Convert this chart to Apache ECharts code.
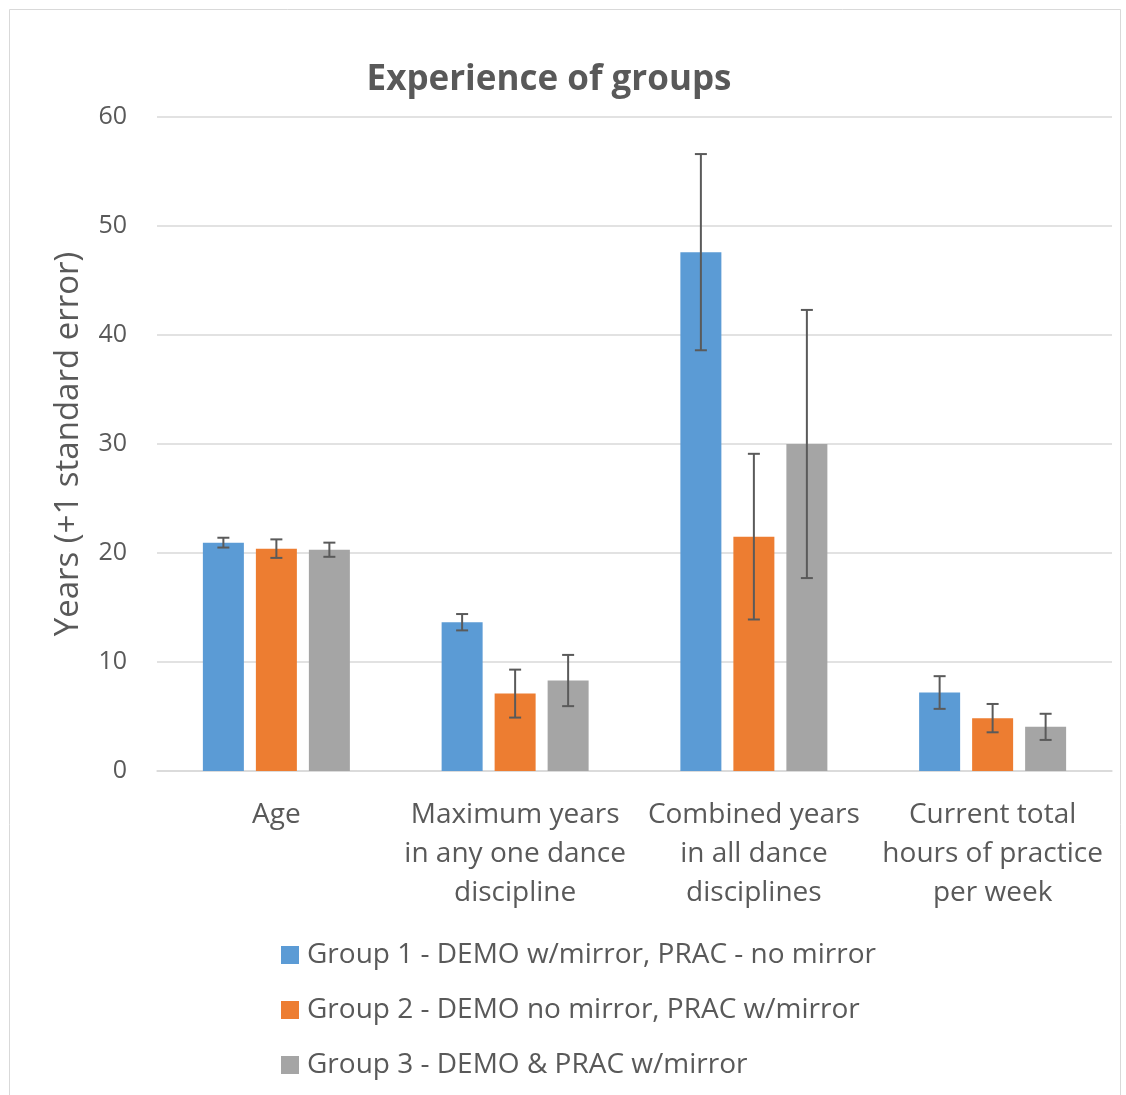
<!DOCTYPE html>
<html>
<head>
<meta charset="utf-8">
<script src="https://cdn.jsdelivr.net/npm/echarts@6/dist/echarts.min.js"></script>
<style>
html,body{margin:0;padding:0;background:#fff;}
#chart{width:1126px;height:1095px;}
</style>
</head>
<body>
<div id="chart"></div>
<script>
const categories = ['Age', 'Maximum years\nin any one dance\ndiscipline', 'Combined years\nin all dance\ndisciplines', 'Current total\nhours of practice\nper week'];
const seriesNames = ['Group 1 - DEMO w/mirror, PRAC - no mirror', 'Group 2 - DEMO no mirror, PRAC w/mirror', 'Group 3 - DEMO & PRAC w/mirror'];
const group1 = [20.95, 13.65, 47.6, 7.2];
const group1Err = [0.45, 0.75, 9.0, 1.5];
const group2 = [20.4, 7.1, 21.5, 4.85];
const group2Err = [0.85, 2.2, 7.6, 1.3];
const group3 = [20.3, 8.3, 30.0, 4.05];
const group3Err = [0.65, 2.35, 12.3, 1.2];
const yTicks = [0, 10, 20, 30, 40, 50, 60];

const colors = ['#5B9BD5', '#ED7D31', '#A5A5A5'];
const values = [group1, group2, group3];
const errs = [group1Err, group2Err, group3Err];
const BAR_W = 41, BAR_GAP = 12;
const font = '"Open Sans", "Noto Sans", sans-serif';

const chart = echarts.init(document.getElementById('chart'));

const barSeries = values.map((v, i) => ({
  name: seriesNames[i],
  type: 'bar',
  data: v,
  barWidth: BAR_W,
  barGap: (BAR_GAP / BAR_W * 100) + '%',
  itemStyle: { color: colors[i] },
  z: 2
}));

const errSeries = values.map((v, i) => ({
  type: 'custom',
  name: 'err' + i,
  data: v.map((val, k) => [k, val - errs[i][k], val + errs[i][k]]),
  encode: { x: 0, y: [1, 2] },
  z: 5,
  silent: true,
  renderItem: function (params, api) {
    const off = (i - 1) * (BAR_W + BAR_GAP);
    const lo = api.coord([api.value(0), api.value(1)]);
    const hi = api.coord([api.value(0), api.value(2)]);
    const x = lo[0] + off;
    const cap = 6;
    const style = { stroke: '#5A5A5A', lineWidth: 2 };
    return {
      type: 'group',
      children: [
        { type: 'line', shape: { x1: x, y1: hi[1], x2: x, y2: lo[1] }, style: style },
        { type: 'line', shape: { x1: x - cap, y1: hi[1], x2: x + cap, y2: hi[1] }, style: style },
        { type: 'line', shape: { x1: x - cap, y1: lo[1], x2: x + cap, y2: lo[1] }, style: style }
      ]
    };
  }
}));

chart.setOption({
  animation: false,
  backgroundColor: '#fff',
  title: {
    text: 'Experience of groups',
    left: 544, textAlign: 'center',
    top: 58,
    textStyle: { fontFamily: font, fontSize: 35, fontWeight: 'bold', color: '#595959' }
  },
  graphic: [{
    type: 'rect', shape: { x: 9.5, y: 9.5, width: 1111, height: 1100 },
    style: { fill: 'none', stroke: '#D9D9D9', lineWidth: 1 }, silent: true
  }],
  legend: {
    data: seriesNames,
    orient: 'vertical',
    left: 281, top: 940, height: 150,
    padding: 0,
    itemWidth: 18, itemHeight: 18, itemGap: 25,
    icon: 'rect',
    textStyle: { fontFamily: font, fontSize: 28, lineHeight: 30, color: '#595959', padding: [0, 0, 0, 3] }
  },
  grid: { left: 157, right: 14, top: 117, bottom: 324, containLabel: false },
  xAxis: {
    type: 'category',
    data: categories,
    axisLine: { lineStyle: { color: '#D9D9D9', width: 1.5 } },
    axisTick: { show: false },
    axisLabel: { fontFamily: font, fontSize: 28, color: '#595959', lineHeight: 39, margin: 25, interval: 0 }
  },
  yAxis: {
    type: 'value',
    min: yTicks[0], max: yTicks[yTicks.length - 1], interval: 10,
    name: 'Years (+1 standard error)',
    nameLocation: 'middle', nameGap: 72, nameRotate: 90,
    nameTextStyle: { fontFamily: font, fontSize: 33, color: '#595959' },
    axisLine: { show: false },
    axisTick: { show: false },
    splitLine: { lineStyle: { color: '#D9D9D9', width: 1.5 } },
    axisLabel: { fontFamily: font, fontSize: 25, color: '#595959', margin: 30 }
  },
  series: barSeries.concat(errSeries)
});
</script>
</body>
</html>
